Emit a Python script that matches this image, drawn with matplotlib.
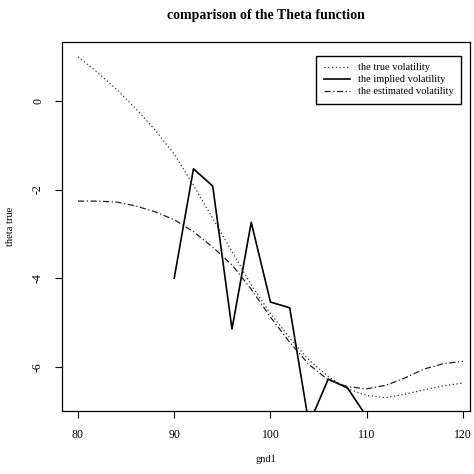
import matplotlib
matplotlib.use("Agg")
import matplotlib.pyplot as plt

# grid
x_curve = [80, 82, 84, 86, 88, 90, 92, 94, 96, 98, 100, 102, 104, 106, 108, 110,
           112, 114, 116, 118, 120]
true_vol = [1.0, 0.65, 0.27, -0.17, -0.65, -1.2, -1.9, -2.65, -3.4, -4.15, -4.8,
            -5.35, -5.85, -6.22, -6.5, -6.65, -6.7, -6.62, -6.52, -6.43, -6.37]
est_vol = [-2.26, -2.26, -2.28, -2.37, -2.5, -2.68, -2.95, -3.3, -3.7, -4.25, -4.88,
           -5.45, -5.95, -6.3, -6.45, -6.5, -6.42, -6.25, -6.05, -5.93, -5.88]
x_implied = [90, 92, 94, 96, 98, 100, 102, 104, 106, 108, 110]
implied_vol = [-4.0, -1.53, -1.92, -5.15, -2.74, -4.54, -4.67, -7.3, -6.28, -6.48, -7.13]

x_ticks = [80, 90, 100, 110, 120]
y_ticks = [0, -2, -4, -6]

serif = ["Liberation Serif", "DejaVu Serif"]
plt.rcParams["font.family"] = serif

fig = plt.figure(figsize=(4.74, 4.74), dpi=100)
ax = fig.add_axes([0.131, 0.133, 0.861, 0.778])

ax.plot(x_curve, true_vol, linestyle=(0, (1, 2)), color="#333333", linewidth=0.9,
        label="the true volatility")
ax.plot(x_implied, implied_vol, linestyle="-", color="black", linewidth=1.2,
        label="the implied volatility")
ax.plot(x_curve, est_vol, linestyle=(0, (5, 2, 1, 2)), color="#222222", linewidth=0.9,
        label="the estimated volatility")

ax.set_xlim(78.35, 120.75)
ax.set_ylim(-7.0, 1.33)
ax.set_xticks(x_ticks)
ax.set_xticklabels([str(v) for v in x_ticks], fontsize=8.5)
ax.set_yticks(y_ticks)
ax.set_yticklabels([str(v) for v in y_ticks], fontsize=8.5, rotation=90, va="center")
ax.tick_params(axis="x", direction="out", length=5, width=0.8, pad=8)
ax.tick_params(axis="y", direction="out", length=5, width=0.8, pad=8)
for s in ax.spines.values():
    s.set_linewidth(0.9)
    s.set_color("black")

ax.set_xlabel("gnd1", fontsize=7.5, labelpad=10)
ax.set_ylabel("theta true", fontsize=7.5, labelpad=12)
fig.text(0.5615, 0.968, "comparison of the Theta function", ha="center", va="center",
         fontsize=10, fontweight="bold")

leg = ax.legend(loc="upper right", fontsize=7.5, frameon=True, fancybox=False,
                edgecolor="black", framealpha=1, handlelength=2.5,
                bbox_to_anchor=(0.99, 0.977), borderpad=0.7, labelspacing=0.25)
leg.get_frame().set_linewidth(1.0)

fig.savefig("out.png", dpi=100)
